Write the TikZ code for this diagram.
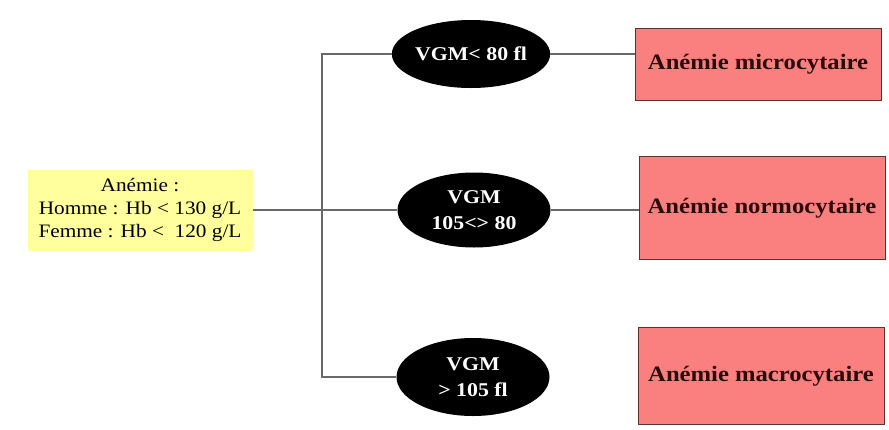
\documentclass[tikz,border=0pt]{standalone}
\usepackage{fontspec}
\setmainfont[FakeStretch=1.12]{Liberation Serif}
\usetikzlibrary{shapes.geometric}
\definecolor{hbyellow}{RGB}{255,255,158}
\definecolor{vgmred}{RGB}{250,128,128}
\definecolor{vgmborder}{RGB}{90,50,50}
\definecolor{vgmtext}{RGB}{45,10,10}
\definecolor{linkgray}{RGB}{105,105,105}
\begin{document}
\begin{tikzpicture}[x=1pt, y=-1pt,
  hbbox/.style={fill=hbyellow, inner sep=0pt, minimum width=225pt, minimum height=81pt,
    align=center, font=\fontsize{19}{23}\selectfont},
  vgmoval/.style={ellipse, fill=black, text=white, inner sep=0pt, minimum width=153pt,
    minimum height=68pt, align=center, font=\fontsize{19.5}{26}\selectfont\bfseries},
  typebox/.style={draw=vgmborder, line width=1pt, fill=vgmred, text=vgmtext, inner sep=0pt,
    minimum width=246pt, font=\fontsize{22}{26}\selectfont\bfseries},
  link/.style={draw=linkgray, line width=1.1pt}]
\useasboundingbox (0,0) rectangle (889,429);

% Anemia
\node[hbbox] (anemie) at (140,210) {An\'emie :\\Homme : Hb < 130 g/L\\Femme : Hb <\ \ 120 g/L};

% VGM
\node[vgmoval] (vgmmicro) at (471,54) {VGM< 80 fl};
\node[vgmoval, minimum height=75pt] (vgmnorm) at (474,210) {VGM\\105<> 80};
\node[vgmoval, minimum height=78pt] (vgmmacro) at (473,377) {VGM\\> 105 fl};

% Types
\node[typebox, minimum height=72pt] (micro) at (758,64) {An\'emie microcytaire};
\node[typebox, minimum height=103pt] (norm) at (762,208) {An\'emie normocytaire};
\node[typebox, minimum height=97pt] (macro) at (761,376) {An\'emie macrocytaire};

% Links
\coordinate (jct) at (322,210);
\draw[link] (anemie.east) -- (vgmnorm.west);
\draw[link] (vgmmicro.west) -| (jct) |- (vgmmacro.west);
\draw[link] (vgmmicro.east) -- (vgmmicro.east -| micro.west);
\draw[link] (vgmnorm.east) -- (vgmnorm.east -| norm.west);
\end{tikzpicture}
\end{document}
